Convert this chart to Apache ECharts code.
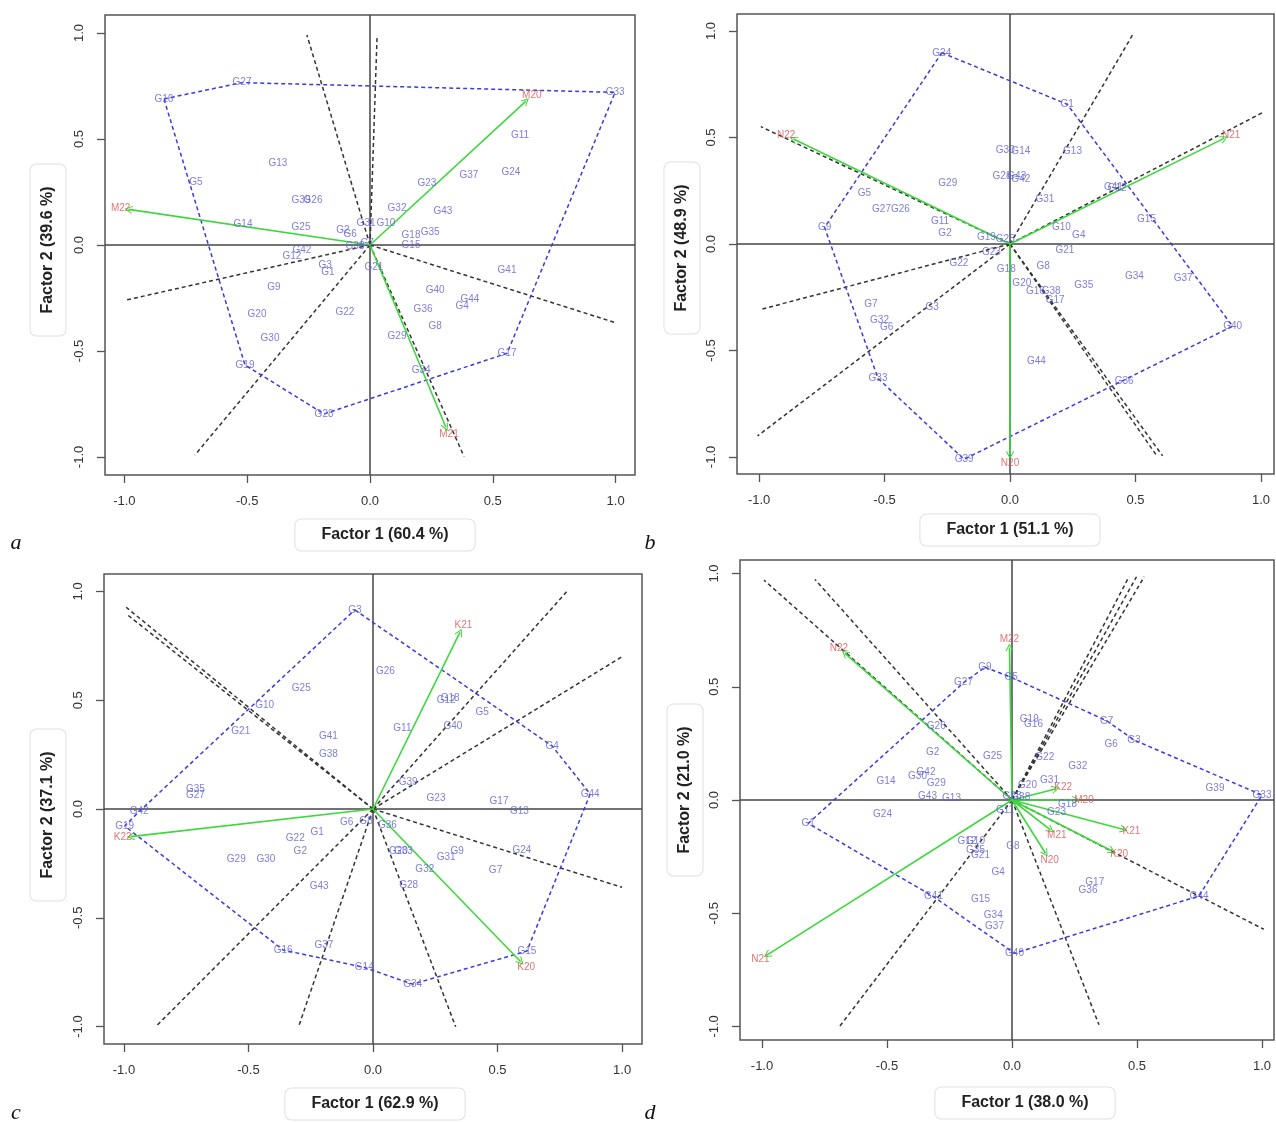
<!DOCTYPE html>
<html><head><meta charset="utf-8">
<script src="https://cdn.jsdelivr.net/npm/echarts@6/dist/echarts.min.js"></script>
<style>html,body{margin:0;padding:0;background:#fff}#c{width:1276px;height:1122px}</style>
</head><body><div id="c"></div><script>
// ---------- Panel a ----------
const genoA = [["G16",-0.839,0.689],["G27",-0.521,0.766],["G33",0.998,0.720],["G11",0.611,0.519],["G13",-0.375,0.385],["G5",-0.709,0.296],["G37",0.403,0.327],["G24",0.574,0.341],["G23",0.232,0.289],["G39",-0.281,0.211],["G26",-0.232,0.211],["G32",0.110,0.173],["G43",0.297,0.157],["G14",-0.517,0.098],["G25",-0.281,0.086],["G2",-0.110,0.071],["G6",-0.081,0.052],["G31",-0.016,0.102],["G10",0.065,0.102],["G18",0.167,0.044],["G35",0.245,0.060],["G15",0.167,0.0],["G38",-0.061,-0.008],["G7",-0.012,0.009],["G42",-0.277,-0.027],["G12",-0.318,-0.052],["G3",-0.183,-0.097],["G1",-0.171,-0.130],["G21",0.016,-0.105],["G41",0.558,-0.118],["G9",-0.391,-0.197],["G40",0.265,-0.212],["G44",0.407,-0.255],["G4",0.375,-0.289],["G36",0.216,-0.302],["G20",-0.460,-0.327],["G22",-0.102,-0.319],["G8",0.265,-0.385],["G30",-0.407,-0.440],["G29",0.110,-0.432],["G17",0.558,-0.511],["G19",-0.509,-0.566],["G34",0.208,-0.593],["G28",-0.187,-0.797]];
const envA = [["M20",0.635,0.679],["M22",-0.983,0.168],["M21",0.309,-0.860]];
const hullA = ["G16","G27","G33","G17","G28","G19","G16"];
const raysA = [[-0.257,0.991],[0.029,0.991],[-0.990,-0.259],[0.998,-0.366],[-0.713,-0.991],[0.383,-0.998]];

// ---------- Panel b ----------
const genoB = [["G24",-0.272,0.898],["G1",0.228,0.656],["G30",-0.019,0.441],["G14",0.043,0.437],["G13",0.249,0.437],["G28",-0.032,0.316],["G43",0.027,0.318],["G42",0.043,0.304],["G29",-0.248,0.285],["G12",0.427,0.261],["G41",0.412,0.265],["G5",-0.580,0.238],["G31",0.139,0.210],["G27",-0.512,0.163],["G26",-0.437,0.163],["G15",0.544,0.116],["G9",-0.739,0.078],["G11",-0.279,0.105],["G2",-0.259,0.050],["G10",0.205,0.081],["G4",0.274,0.042],["G19",-0.094,0.034],["G25",-0.019,0.023],["G23",-0.074,-0.041],["G21",0.219,-0.028],["G22",-0.204,-0.091],["G18",-0.015,-0.119],["G8",0.132,-0.106],["G34",0.496,-0.150],["G37",0.690,-0.161],["G20",0.047,-0.185],["G35",0.294,-0.192],["G16",0.101,-0.221],["G38",0.164,-0.221],["G17",0.180,-0.266],["G7",-0.554,-0.283],["G3",-0.310,-0.299],["G32",-0.520,-0.360],["G6",-0.492,-0.391],["G40",0.887,-0.386],["G44",0.105,-0.549],["G33",-0.526,-0.631],["G36",0.455,-0.643],["G39",-0.183,-1.011]];
const envB = [["N22",-0.863,0.493],["N21",0.853,0.496],["N20",0.0,-0.991]];
const hullB = ["G24","G1","G40","G39","G33","G9","G24"];
const raysB = [[0.492,0.989],[-0.993,0.551],[1.013,0.621],[-0.993,-0.307],[-1.006,-0.901],[0.585,-0.995],[0.608,-0.995]];

// ---------- Panel c ----------
const genoC = [["G3",-0.073,0.915],["G26",0.050,0.631],["G25",-0.288,0.555],["G10",-0.435,0.478],["G12",0.294,0.501],["G18",0.310,0.509],["G5",0.438,0.443],["G21",-0.531,0.356],["G11",0.118,0.371],["G40",0.321,0.379],["G41",-0.179,0.333],["G38",-0.179,0.251],["G4",0.719,0.290],["G39",0.141,0.123],["G35",-0.713,0.091],["G27",-0.713,0.061],["G44",0.872,0.069],["G23",0.253,0.049],["G17",0.506,0.037],["G13",0.588,-0.009],["G42",-0.939,-0.012],["G19",-0.997,-0.078],["G6",-0.106,-0.063],["G8",-0.028,-0.054],["G36",0.058,-0.074],["G1",-0.224,-0.109],["G22",-0.312,-0.135],["G2",-0.292,-0.196],["G29",-0.549,-0.230],["G30",-0.430,-0.230],["G20",0.102,-0.192],["G33",0.122,-0.192],["G9",0.338,-0.193],["G31",0.294,-0.222],["G24",0.598,-0.189],["G32",0.208,-0.277],["G7",0.492,-0.280],["G28",0.143,-0.349],["G43",-0.216,-0.357],["G16",-0.361,-0.648],["G37",-0.197,-0.628],["G14",-0.035,-0.728],["G34",0.159,-0.805],["G15",0.618,-0.653]];
const envC = [["K21",0.349,0.812],["K22",-0.973,-0.127],["K20",0.593,-0.702]];
const hullC = ["G3","G4","G44","G15","G34","G14","G16","G19","G42","G3"];
const raysC = [[-0.991,0.927],[-0.991,0.897],[0.780,1.002],[1.0,0.700],[1.0,-0.360],[-0.873,-1.001],[-0.298,-0.998],[0.332,-1.001]];

// ---------- Panel d ----------
const genoD = [["G9",-0.108,0.586],["G5",-0.003,0.542],["G27",-0.194,0.518],["G19",0.069,0.358],["G16",0.086,0.334],["G7",0.379,0.350],["G26",-0.303,0.324],["G6",0.397,0.247],["G3",0.488,0.265],["G2",-0.317,0.210],["G25",-0.078,0.194],["G22",0.131,0.191],["G32",0.263,0.150],["G14",-0.504,0.081],["G30",-0.378,0.106],["G42",-0.344,0.122],["G29",-0.303,0.074],["G31",0.150,0.088],["G20",0.062,0.063],["G39",0.812,0.052],["G43",-0.338,0.015],["G13",-0.242,0.007],["G33",1.0,0.022],["G18",0.222,-0.018],["G23",0.178,-0.056],["G24",-0.518,-0.063],["G1",-0.815,-0.103],["G12",-0.180,-0.180],["G10",-0.146,-0.180],["G8",0.004,-0.203],["G35",-0.146,-0.224],["G21",-0.126,-0.246],["G4",-0.055,-0.321],["G17",0.331,-0.364],["G36",0.304,-0.397],["G41",-0.314,-0.427],["G15",-0.126,-0.439],["G44",0.748,-0.424],["G34",-0.075,-0.511],["G37",-0.070,-0.559],["G40",0.010,-0.677],["G38",0.035,0.010],["G28",0.000,0.015],["G11",-0.028,-0.044]];
const envD = [["N22",-0.668,0.648],["M22",-0.010,0.674],["K22",0.174,0.049],["M20",0.256,0.0],["M21",0.154,-0.132],["K21",0.447,-0.130],["N20",0.134,-0.235],["K20",0.400,-0.225],["N21",-0.979,-0.684]];
const hullD = ["G9","G5","G7","G3","G33","G44","G40","G41","G1","G27","G9"];
const raysD = [[-0.992,0.971],[-0.788,0.974],[0.468,0.986],[0.498,0.986],[0.529,0.986],[-0.690,-1.001],[0.348,-0.993],[1.007,-0.571]];

const tickValues = [-1, -0.5, 0, 0.5, 1];
const xTitles = ["Factor 1 (60.4 %)", "Factor 1 (51.1 %)", "Factor 1 (62.9 %)", "Factor 1 (38.0 %)"];
const yTitles = ["Factor 2 (39.6 %)", "Factor 2 (48.9 %)", "Factor 2 (37.1 %)", "Factor 2 (21.0 %)"];
const letters = ["a", "b", "c", "d"];

// layout (pixels) and axis ranges
const layout = [
  {grid:{left:105, top:15, width:530, height:460}, xr:[-1.079,1.079], yr:[-1.085,1.085], xt:[385,535], yt:[48,250], lt:[16,543]},
  {grid:{left:737, top:14, width:537, height:460}, xr:[-1.088,1.052], yr:[-1.080,1.080], xt:[1010,530], yt:[682,248], lt:[650,543]},
  {grid:{left:104, top:574, width:538, height:470}, xr:[-1.08,1.08], yr:[-1.08,1.08], xt:[375,1104], yt:[48,815], lt:[16,1113]},
  {grid:{left:740, top:560, width:534, height:480}, xr:[-1.088,1.048], yr:[-1.060,1.060], xt:[1025,1103], yt:[685,790], lt:[650,1113]}
];
const panels = [
  {geno:genoA, env:envA, hull:hullA, rays:raysA},
  {geno:genoB, env:envB, hull:hullB, rays:raysB},
  {geno:genoC, env:envC, hull:hullC, rays:raysC},
  {geno:genoD, env:envD, hull:hullD, rays:raysD}
];

const FONT = "'Liberation Sans', Arial, sans-serif";
const chevron = 'path://M0,0 L7,10 L5.6,10.8 L0,2.8 L-5.6,10.8 L-7,10 Z';
const grids = [], xAxes = [], yAxes = [], series = [], graphics = [];

panels.forEach((p, i) => {
  const L = layout[i];
  grids.push(Object.assign({show:true, borderColor:'#555', borderWidth:1.5, backgroundColor:'#fff'}, L.grid));
  xAxes.push({type:'value', gridIndex:i, min:L.xr[0], max:L.xr[1], position:'bottom',
    axisLine:{show:false, onZero:false}, splitLine:{show:false},
    axisTick:{show:true, inside:false, length:8, lineStyle:{color:'#555', width:1.3}, customValues:tickValues},
    axisLabel:{show:true, customValues:tickValues, formatter:v=>v.toFixed(1), margin:20, color:'#333', fontSize:13, fontFamily:FONT}});
  yAxes.push({type:'value', gridIndex:i, min:L.yr[0], max:L.yr[1], position:'left',
    axisLine:{show:false, onZero:false}, splitLine:{show:false},
    axisTick:{show:true, inside:false, length:8, lineStyle:{color:'#555', width:1.3}, customValues:tickValues},
    axisLabel:{show:true, customValues:tickValues, formatter:v=>v.toFixed(1), rotate:90, margin:19, color:'#333', fontSize:13, fontFamily:FONT}});

  const ux = L.grid.width / (L.xr[1]-L.xr[0]);
  const uy = L.grid.height / (L.yr[1]-L.yr[0]);

  // zero cross lines
  series.push({type:'lines', coordinateSystem:'cartesian2d', xAxisIndex:i, yAxisIndex:i, silent:true, z:1,
    lineStyle:{color:'#444', width:1.5, opacity:1, type:'solid'},
    data:[{coords:[[L.xr[0],0],[L.xr[1],0]]},{coords:[[0,L.yr[0]],[0,L.yr[1]]]}]});
  // sector rays
  series.push({type:'lines', coordinateSystem:'cartesian2d', xAxisIndex:i, yAxisIndex:i, silent:true, z:2,
    lineStyle:{color:'#333', width:1.5, opacity:1, type:[4,3]},
    data:p.rays.map(r=>({coords:[[0,0],[r[0],r[1]]]}))});
  // polygon hull
  const gmap = {}; p.geno.forEach(g=>{gmap[g[0]] = [g[1], g[2]];});
  series.push({type:'line', xAxisIndex:i, yAxisIndex:i, silent:true, z:3, symbol:'none', smooth:false,
    lineStyle:{color:'#3a3ae0', width:1.5, type:[4,3]},
    data:p.hull.map(n=>gmap[n])});
  // environment vectors
  series.push({type:'lines', coordinateSystem:'cartesian2d', xAxisIndex:i, yAxisIndex:i, silent:true, z:4,
    symbol:['none', chevron], symbolSize:[9,8],
    lineStyle:{color:'#3cd83c', width:1.6, opacity:1, curveness:0},
    data:p.env.map(e=>({coords:[[0,0],[e[1],e[2]]]}))});
  // genotype labels
  series.push({type:'scatter', xAxisIndex:i, yAxisIndex:i, silent:true, z:5, symbolSize:1,
    itemStyle:{color:'rgba(0,0,0,0)'},
    label:{show:true, position:'inside', formatter:'{b}', color:'#5d5dd8', fontSize:10, fontFamily:FONT},
    data:p.geno.map(g=>({name:g[0], value:[g[1], g[2]]}))});
  // environment labels
  series.push({type:'scatter', xAxisIndex:i, yAxisIndex:i, silent:true, z:6, symbolSize:1,
    itemStyle:{color:'rgba(0,0,0,0)'},
    data:p.env.map(e=>{
      const dx = e[1]*ux, dy = -e[2]*uy, len = Math.hypot(dx,dy) || 1;
      return {name:e[0], value:[e[1], e[2]],
        label:{show:true, position:'inside', formatter:'{b}', color:'#e05050', fontSize:10, fontFamily:FONT,
          offset:[8*dx/len, 8*dy/len]}};
    })});

  // titles in rounded boxes
  graphics.push({type:'text', x:L.xt[0], y:L.xt[1], z:10, style:{text:xTitles[i], x:0, y:0, align:'center', verticalAlign:'middle',
    font:"bold 16px "+FONT, fill:'#222', backgroundColor:'#fff', borderColor:'#e0e0e0', borderWidth:1, borderRadius:6, padding:[8,26,7,26]}});
  graphics.push({type:'text', x:L.yt[0], y:L.yt[1], rotation:Math.PI/2, z:10, style:{text:yTitles[i], x:0, y:0, align:'center', verticalAlign:'middle',
    font:"bold 16px "+FONT, fill:'#222', backgroundColor:'#fff', borderColor:'#e0e0e0', borderWidth:1, borderRadius:6, padding:[10,22,9,22]}});
  graphics.push({type:'text', x:L.lt[0], y:L.lt[1], z:10, style:{text:letters[i], x:0, y:0, align:'center', verticalAlign:'middle',
    font:"italic 22px 'Liberation Serif', 'Times New Roman', serif", fill:'#111'}});
});

const chart = echarts.init(document.getElementById('c'), null, {renderer:'canvas'});
chart.setOption({animation:false, backgroundColor:'#fff', grid:grids, xAxis:xAxes, yAxis:yAxes, series:series, graphic:graphics});
</script></body></html>
